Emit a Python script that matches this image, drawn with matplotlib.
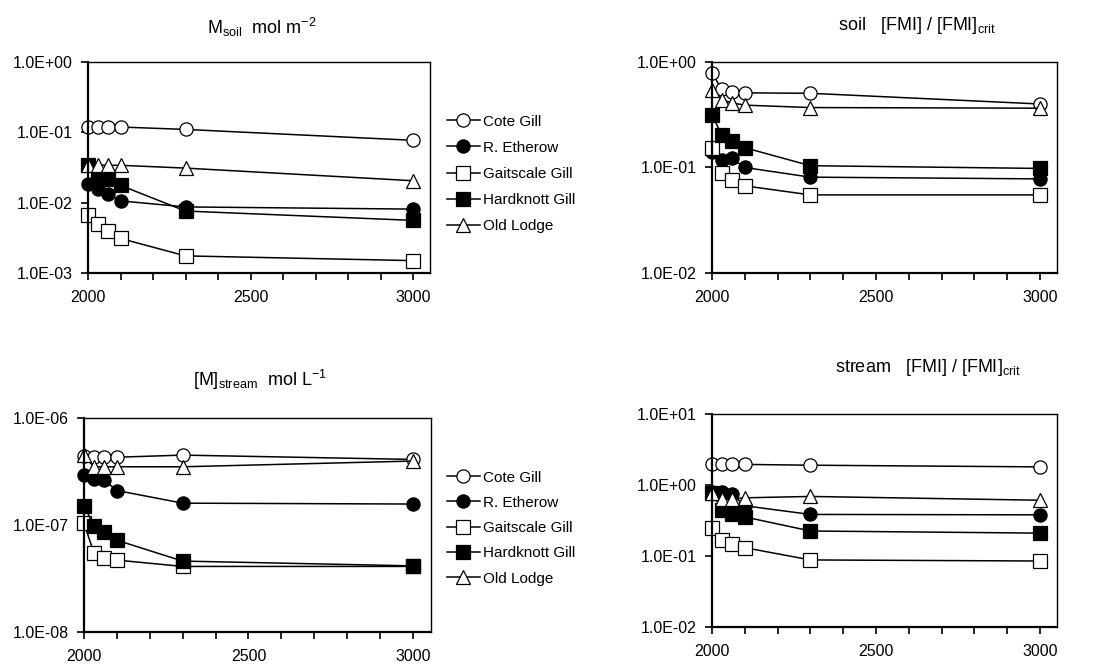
import matplotlib
matplotlib.use("Agg")
import numpy as np
import matplotlib.pyplot as plt
from matplotlib.ticker import MultipleLocator, FixedLocator, FuncFormatter, NullLocator

plt.rcParams['font.family'] = ['Liberation Sans', 'DejaVu Sans']
plt.rcParams['mathtext.fontset'] = 'custom'
plt.rcParams['mathtext.rm'] = 'Liberation Sans'
plt.rcParams['mathtext.it'] = 'Liberation Sans:italic'
plt.rcParams['mathtext.default'] = 'regular'

years = [2000, 2030, 2060, 2100, 2300, 3000]
sites = ["Cote Gill", "R. Etherow", "Gaitscale Gill", "Hardknott Gill", "Old Lodge"]

# Panel 1: M_soil (mol m-2)
msoil_cote = [0.119, 0.119, 0.119, 0.119, 0.110, 0.077]
msoil_etherow = [0.0182, 0.0158, 0.0134, 0.0106, 0.0087, 0.0081]
msoil_gaitscale = [0.0066, 0.0049, 0.00395, 0.0031, 0.00175, 0.0015]
msoil_hardknott = [0.034, 0.025, 0.022, 0.0176, 0.0076, 0.0056]
msoil_oldlodge = [0.034, 0.034, 0.034, 0.034, 0.031, 0.0205]

# Panel 2: soil [FMI]/[FMI]crit
sfmi_cote = [0.79, 0.55, 0.52, 0.51, 0.505, 0.40]
sfmi_etherow = [0.14, 0.117, 0.122, 0.100, 0.081, 0.078]
sfmi_gaitscale = [0.152, 0.088, 0.076, 0.067, 0.055, 0.055]
sfmi_hardknott = [0.316, 0.202, 0.180, 0.154, 0.104, 0.098]
sfmi_oldlodge = [0.54, 0.44, 0.41, 0.39, 0.37, 0.365]

# Panel 3: [M]stream (mol L-1)
mstr_cote = [4.4e-7, 4.3e-7, 4.3e-7, 4.3e-7, 4.5e-7, 4.1e-7]
mstr_etherow = [2.96e-7, 2.7e-7, 2.65e-7, 2.1e-7, 1.6e-7, 1.57e-7]
mstr_gaitscale = [1.04e-7, 5.5e-8, 4.95e-8, 4.7e-8, 4.1e-8, 4.1e-8]
mstr_hardknott = [1.52e-7, 9.8e-8, 8.6e-8, 7.2e-8, 4.6e-8, 4.15e-8]
mstr_oldlodge = [4.5e-7, 3.5e-7, 3.5e-7, 3.5e-7, 3.5e-7, 3.96e-7]

# Panel 4: stream [FMI]/[FMI]crit
wfmi_cote = [1.95, 1.95, 1.95, 1.95, 1.9, 1.8]
wfmi_etherow = [0.80, 0.80, 0.75, 0.51, 0.385, 0.38]
wfmi_gaitscale = [0.25, 0.166, 0.146, 0.131, 0.088, 0.085]
wfmi_hardknott = [0.78, 0.45, 0.39, 0.355, 0.225, 0.21]
wfmi_oldlodge = [0.76, 0.63, 0.63, 0.66, 0.69, 0.61]

titles = [r"M$_{soil}$  mol m$^{-2}$",
          r"soil   [FMI] / [FMI]$_{crit}$",
          r"[M]$_{stream}$  mol L$^{-1}$",
          r"stream   [FMI] / [FMI]$_{crit}$"]

W, H = 1119, 668
fig = plt.figure(figsize=(W / 100, H / 100), dpi=100)

def rect(l, r, t, b):
    return [l / W, 1 - b / H, (r - l) / W, (b - t) / H]

styles = [dict(marker='o', mfc='white'), dict(marker='o', mfc='black'),
          dict(marker='s', mfc='white'), dict(marker='s', mfc='black'),
          dict(marker='^', mfc='white')]

panels = [
    (rect(88, 430, 62, 273), (2000, 3052), (1e-3, 1e0),
     [msoil_cote, msoil_etherow, msoil_gaitscale, msoil_hardknott, msoil_oldlodge]),
    (rect(712, 1057, 62, 273), (2000, 3052), (1e-2, 1e0),
     [sfmi_cote, sfmi_etherow, sfmi_gaitscale, sfmi_hardknott, sfmi_oldlodge]),
    (rect(84, 431, 418, 632), (2000, 3055), (1e-8, 1e-6),
     [mstr_cote, mstr_etherow, mstr_gaitscale, mstr_hardknott, mstr_oldlodge]),
    (rect(712, 1057, 414, 627), (2000, 3052), (1e-2, 1e1),
     [wfmi_cote, wfmi_etherow, wfmi_gaitscale, wfmi_hardknott, wfmi_oldlodge]),
]

title_pos = [(262, 27), (917, 25), (260, 380), (928, 368)]

fmt = FuncFormatter(lambda v, p: f"{v:.1E}")
axes = []
for (r, xl, yl, series), title, tp in zip(panels, titles, title_pos):
    ax = fig.add_axes(r)
    ax.set_yscale('log')
    handles = []
    for vals, st, name in zip(series, styles, sites):
        h, = ax.plot(years, vals, color='black', lw=1.1, ms=9.5, mec='black',
                     mew=0.9, label=name, clip_on=False, **st)
        handles.append(h)
    ax.set_xlim(*xl)
    ax.set_ylim(*yl)
    lo, hi = int(round(np.log10(yl[0]))), int(round(np.log10(yl[1])))
    ax.yaxis.set_major_locator(FixedLocator([10.0 ** k for k in range(lo, hi + 1)]))
    ax.yaxis.set_minor_locator(NullLocator())
    ax.yaxis.set_major_formatter(fmt)
    ax.xaxis.set_major_locator(MultipleLocator(500))
    ax.xaxis.set_minor_locator(MultipleLocator(100))
    ax.tick_params(axis='both', which='both', direction='out', length=5, width=1.2,
                   labelsize=11.5, colors='black', pad=6)
    ax.tick_params(axis='x', pad=7)
    for s in ['left', 'bottom']:
        ax.spines[s].set_linewidth(1.6)
    for s in ['top', 'right']:
        ax.spines[s].set_linewidth(1.0)
    fig.text(tp[0] / W, 1 - tp[1] / H, title, ha='center', va='center', fontsize=13)
    axes.append((ax, handles))

# Legends
for (ax, handles), (lx, ly, ls) in zip([axes[0], axes[2]], [(447, 114.5, 0.80), (447, 470.5, 0.74)]):
    fig.legend(handles=handles, loc='upper left', bbox_to_anchor=(lx / W, 1 - ly / H),
               frameon=False, fontsize=11, handlelength=2.15, handletextpad=0.2,
               labelspacing=ls, borderpad=0, borderaxespad=0)

fig.savefig("out.png", dpi=100)
